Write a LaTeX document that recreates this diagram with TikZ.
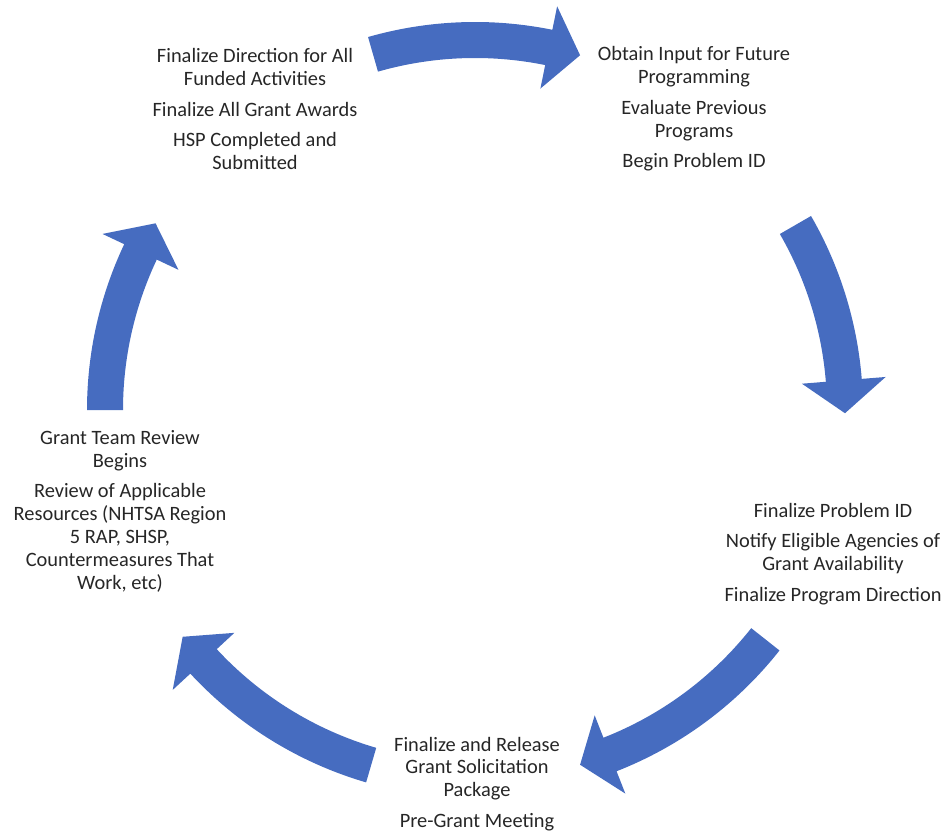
\documentclass[tikz,border=0pt]{standalone}
\usepackage{fontspec}
\setmainfont{Carlito}
\usetikzlibrary{positioning}
\definecolor{cycleblue}{RGB}{70,108,192}
\definecolor{phasetext}{RGB}{38,38,38}
\newcommand{\cyclearrow}[3]{%
  \fill[cycleblue] (#1:194pt) arc[start angle=#1, end angle=#2, radius=194pt]
    -- (#2:206pt) -- (#3:185pt) -- (#2:164pt) -- (#2:176pt)
    arc[start angle=#2, end angle=#1, radius=176pt] -- cycle;}

\begin{document}
\begin{tikzpicture}[x=0.5pt,y=-0.5pt,
    phase/.style={align=center,text=phasetext,inner sep=0pt,
      font=\fontsize{10.2}{11.4}\selectfont}]
    \useasboundingbox (0,0) rectangle (945,833);
    \coordinate (cyc) at (475,410);
    \node[phase] (awards) at (255,109) {Finalize Direction for All\\Funded Activities\\[4pt]Finalize All Grant Awards\\[4pt]HSP Completed and\\Submitted};
    \node[phase] (input) at (694,109) {Obtain Input for Future\\Programming\\[4pt]Evaluate Previous\\Programs\\[4pt]Begin Problem ID};
    \node[phase] (problem) at (833,554) {Finalize Problem ID\\[4pt]Notify Eligible Agencies of\\Grant Availability\\[4pt]Finalize Program Direction};
    \node[phase] (release) at (477,784) {Finalize and Release\\Grant Solicitation\\Package\\[4pt]Pre-Grant Meeting};
    \node[phase] (review) at (120,511) {Grant Team Review\\Begins\\[4pt]Review of Applicable\\Resources (NHTSA Region\\5 RAP, SHSP,\\Countermeasures That\\Work, etc)};
    \begin{scope}[shift={(cyc)}]
        \cyclearrow{106}{78.5}{73.5}
        \cyclearrow{30}{4.6}{-0.5}
        \cyclearrow{-38.3}{-68.6}{-73.5}
        \cyclearrow{-106.3}{-137.2}{-142.2}
        \cyclearrow{180}{154.7}{149.7}
    \end{scope}
\end{tikzpicture}
\end{document}
